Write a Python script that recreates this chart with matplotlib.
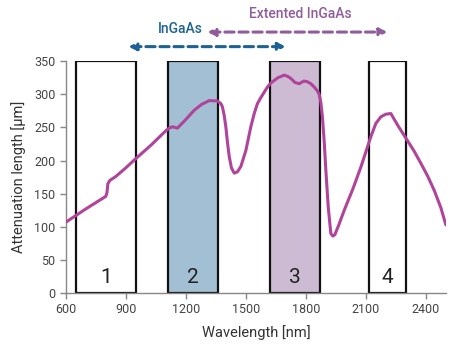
import matplotlib
matplotlib.use("Agg")
import matplotlib.pyplot as plt

wavelength = [600, 700, 800, 806, 810, 820, 850, 900, 950, 1025, 1100, 1117, 1133, 1158,
              1200, 1242, 1280, 1317, 1358, 1375, 1383, 1392, 1400, 1408, 1417, 1428,
              1442, 1458, 1475, 1500, 1525, 1542, 1558, 1575, 1608, 1625, 1660, 1692,
              1710, 1725, 1745, 1767, 1790, 1808, 1825, 1842, 1858, 1867, 1875, 1883,
              1892, 1900, 1912, 1925, 1935, 1945, 1965, 1992, 2035, 2075, 2100, 2125,
              2150, 2175, 2200, 2225, 2262, 2300, 2340, 2375, 2410, 2442, 2475, 2500]
attenuation = [107, 127, 146, 152, 165, 170, 176, 189, 203, 223, 245, 249, 251, 249,
               262, 276, 285, 290.5, 290, 286, 281, 268, 251, 228, 206, 189,
               181, 183, 191, 215, 251, 271, 286, 295, 311, 317, 325, 329,
               327, 324, 318, 316, 320, 319, 316, 311, 305, 300, 288, 266,
               228, 186, 130, 90, 86, 88, 103, 125, 157, 190, 213, 236,
               256, 266, 270, 271, 252, 234, 215, 196, 176, 155, 129, 103]

band_labels = ["1", "2", "3", "4"]
band_start = [650, 1110, 1620, 2115]
band_end = [950, 1360, 1870, 2300]
band_top = 350
band_colors = ["white", "#a3bfd3", "#cdbbd3", "white"]

ingaas_range = [913, 1700]
ext_ingaas_range = [1308, 2208]

xticks = [600, 900, 1200, 1500, 1800, 2100, 2400]
yticks = [0, 50, 100, 150, 200, 250, 300, 350]

plt.rcParams['font.family'] = ['Roboto', 'DejaVu Sans']

fig = plt.figure(figsize=(4.54, 3.6), dpi=100)
ax = fig.add_axes([0.145, 0.186, 0.837, 0.644])

for lab, s, e, c in zip(band_labels, band_start, band_end, band_colors):
    ax.bar(s, band_top, width=e - s, align='edge', color=c, edgecolor='#111111',
           linewidth=1.6, zorder=1)
    ax.text((s + e) / 2, 24, lab, ha='center', va='center', fontsize=15,
            color='#222222', zorder=4)

ax.plot(wavelength, attenuation, color='#b0449a', lw=2.2, zorder=3,
        solid_capstyle='round', solid_joinstyle='round')

ax.set_xlim(600, 2500)
ax.set_ylim(0, 350)
ax.set_xticks(xticks)
ax.set_yticks(yticks)
for sp in ['top', 'right']:
    ax.spines[sp].set_visible(False)
for sp in ['left', 'bottom']:
    ax.spines[sp].set_color('#888888')
    ax.spines[sp].set_linewidth(1.0)
ax.tick_params(colors='#888888', labelcolor='#444444', labelsize=9, length=4, width=1)
ax.set_xlabel('Wavelength [nm]', fontsize=10.5, color='#333333', labelpad=6)
ax.set_ylabel('Attenuation length [µm]', fontsize=10.5, color='#333333', labelpad=6)

blue = '#1d6294'
purple = '#915c9c'
ax.annotate('', xy=(ingaas_range[1], 372), xytext=(ingaas_range[0], 372),
            arrowprops=dict(arrowstyle='<|-|>', color=blue, lw=2.2,
                            linestyle=(0, (3, 1.6)), mutation_scale=11,
                            shrinkA=0, shrinkB=0),
            annotation_clip=False)
ax.annotate('', xy=(ext_ingaas_range[1], 394), xytext=(ext_ingaas_range[0], 394),
            arrowprops=dict(arrowstyle='<|-|>', color=purple, lw=2.2,
                            linestyle=(0, (3, 1.6)), mutation_scale=11,
                            shrinkA=0, shrinkB=0),
            annotation_clip=False)
ax.text(1170, 398, 'InGaAs', ha='center', va='center', fontsize=10,
        color=blue, fontweight='medium', clip_on=False)
ax.text(1770, 422, 'Extented InGaAs', ha='center', va='center', fontsize=10,
        color=purple, fontweight='medium', clip_on=False)

fig.savefig('out.png', dpi=100)
